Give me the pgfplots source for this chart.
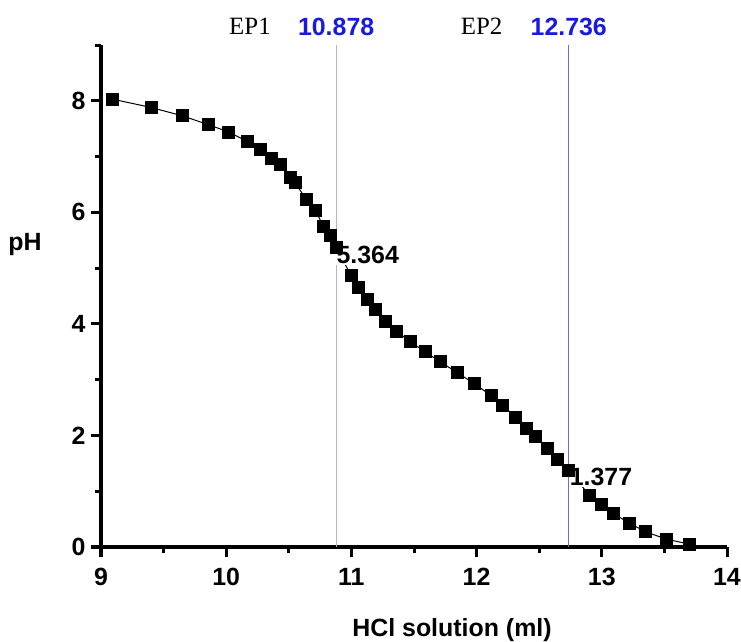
\documentclass[border=0pt]{standalone}
\usepackage{pgfplots}
\pgfplotsset{compat=1.18}
\usepackage{fontspec}
\setmainfont{Liberation Sans}
\newfontfamily\timesfont{Liberation Serif}
\definecolor{epone}{RGB}{175,175,235}
\definecolor{eptwo}{RGB}{110,110,205}
\definecolor{epblue}{RGB}{25,25,225}
\begin{document}
\begin{tikzpicture}
\useasboundingbox (-101bp,-95bp) rectangle (640bp,547bp);
\begin{axis}[
  scale only axis,
  width=626bp, height=502bp,
  at={(0,0)}, anchor=origin,
  xmin=9, xmax=14, ymin=0, ymax=9,
  axis x line*=bottom, axis y line*=left,
  every outer x axis line/.append style={-, line width=3bp, black},
  every outer y axis line/.append style={-, line width=3bp, black},
  xtick={9,10,11,12,13,14},
  ytick={0,2,4,6,8},
  minor xtick={9.5,10.5,11.5,12.5,13.5},
  minor ytick={1,3,5,7,9},
  tick align=outside,
  major tick length=10bp, minor tick length=6bp,
  every major tick/.append style={black, line width=3bp},
  every minor tick/.append style={black, line width=3bp},
  /pgf/number format/assume math mode=true,
  tick label style={font=\bfseries\fontsize{25}{28}\selectfont},
  xticklabel style={yshift=-8bp},
  yticklabel style={xshift=-2bp},
  clip=false,
]
\addplot[color=epone, line width=1bp] coordinates {(10.878,0) (10.878,9)};
\addplot[color=eptwo, line width=1bp] coordinates {(12.736,0) (12.736,9)};
\addplot[black, line width=1bp, mark=square*, mark size=6bp,
  mark options={solid, fill=black}] coordinates {
(9.09,8.03) (9.40,7.88) (9.65,7.73) (9.86,7.57) (10.02,7.44) (10.17,7.27)
(10.27,7.13) (10.36,6.96) (10.43,6.85) (10.51,6.62) (10.55,6.53) (10.64,6.23)
(10.71,6.04) (10.78,5.74) (10.83,5.58) (10.878,5.364) (11.0,4.86) (11.06,4.65)
(11.13,4.44) (11.19,4.25) (11.27,4.05) (11.36,3.87) (11.47,3.68) (11.59,3.50)
(11.71,3.32) (11.85,3.12) (11.98,2.93) (12.12,2.71) (12.21,2.54) (12.31,2.33)
(12.40,2.13) (12.47,1.98) (12.57,1.76) (12.65,1.56) (12.736,1.377) (12.90,0.93)
(13.0,0.76) (13.09,0.60) (13.22,0.43) (13.35,0.27) (13.52,0.14) (13.70,0.05)
};
\node[fill=white, inner sep=1bp, anchor=west, font=\bfseries\fontsize{25}{28}\selectfont]
  at (axis cs:10.872,5.24) {5.364};
\node[fill=white, inner sep=1bp, anchor=west, font=\bfseries\fontsize{25}{28}\selectfont]
  at (axis cs:12.735,1.26) {1.377};
\node[font=\bfseries\fontsize{25}{28}\selectfont, text=epblue] at (axis cs:10.878,9.33) {10.878};
\node[font=\bfseries\fontsize{25}{28}\selectfont, text=epblue] at (axis cs:12.736,9.33) {12.736};
\node[font=\timesfont\fontsize{25}{30}\selectfont] at (axis cs:10.19,9.33) {EP1};
\node[font=\timesfont\fontsize{25}{30}\selectfont] at (axis cs:12.04,9.33) {EP2};
\end{axis}
\node[font=\bfseries\fontsize{25}{28}\selectfont] at (-76bp,302bp) {pH};
\node[font=\bfseries\fontsize{25}{28}\selectfont] at (351bp,-83bp) {HCl solution (ml)};
\end{tikzpicture}
\end{document}
